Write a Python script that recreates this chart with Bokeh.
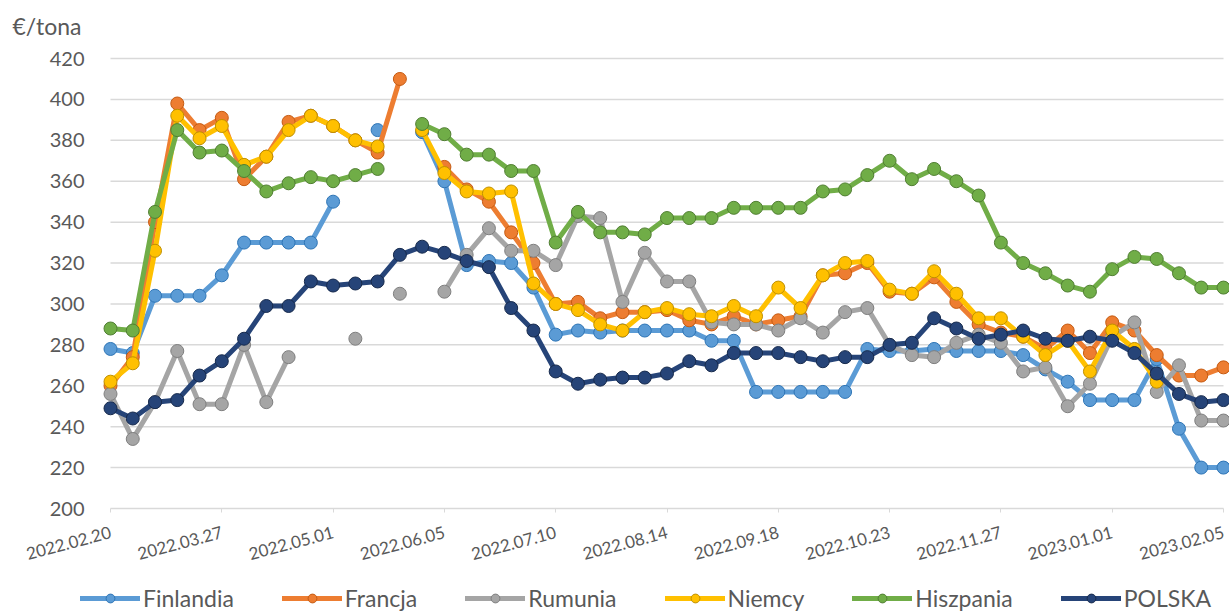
import math
from bokeh.plotting import figure
from bokeh.models import Legend, LegendItem, FixedTicker, Range1d, Label
from bokeh.embed import file_html
from bokeh.resources import INLINE

nan = float("nan")

tick_labels = ["2022.02.20", "2022.03.27", "2022.05.01", "2022.06.05", "2022.07.10",
               "2022.08.14", "2022.09.18", "2022.10.23", "2022.11.27", "2023.01.01", "2023.02.05"]
y_ticks = [200, 220, 240, 260, 280, 300, 320, 340, 360, 380, 400, 420]

finlandia = [278, 276, 304, 304, 304, 314, 330, 330, 330, 330, 350, nan, 385, nan, 384, 360, 319, 321, 320, 308,
             285, 287, 286, 287, 287, 287, 287, 282, 282, 257, 257, 257, 257, 257, 278, 277, 277, 278, 277, 277,
             277, 275, 268, 262, 253, 253, 253, 273, 239, 220, 220]
francja = [260, 274, 340, 398, 385, 391, 361, 372, 389, 392, 387, 380, 374, 410, nan, 367, 356, 350, 335, 320,
           300, 301, 293, 296, 296, 297, 292, 290, 294, 290, 292, 294, 314, 315, 320, 306, 305, 313, 301, 290,
           286, 284, 278, 287, 276, 291, 287, 275, 265, 265, 269]
rumunia = [256, 234, 252, 277, 251, 251, 280, 252, 274, nan, nan, 283, nan, 305, nan, 306, 324, 337, 326, 326,
           319, 343, 342, 301, 325, 311, 311, 291, 290, 290, 287, 293, 286, 296, 298, 280, 275, 274, 281, 285,
           281, 267, 269, 250, 261, 284, 291, 257, 270, 243, 243]
niemcy = [262, 271, 326, 392, 381, 387, 368, 372, 385, 392, 387, 380, 377, nan, 385, 364, 355, 354, 355, 310,
          300, 297, 290, 287, 296, 298, 295, 294, 299, 294, 308, 298, 314, 320, 321, 307, 305, 316, 305, 293,
          293, 284, 275, 282, 267, 287, 278, 262, nan, nan, nan]
hiszpania = [288, 287, 345, 385, 374, 375, 365, 355, 359, 362, 360, 363, 366, nan, 388, 383, 373, 373, 365, 365,
             330, 345, 335, 335, 334, 342, 342, 342, 347, 347, 347, 347, 355, 356, 363, 370, 361, 366, 360, 353,
             330, 320, 315, 309, 306, 317, 323, 322, 315, 308, 308]
polska = [249, 244, 252, 253, 265, 272, 283, 299, 299, 311, 309, 310, 311, 324, 328, 325, 321, 318, 298, 287,
          267, 261, 263, 264, 264, 266, 272, 270, 276, 276, 276, 274, 272, 274, 274, 280, 281, 293, 288, 283,
          285, 287, 283, 282, 284, 282, 276, 266, 256, 252, 253]

names = ["Finlandia", "Francja", "Rumunia", "Niemcy", "Hiszpania", "POLSKA"]
series = [finlandia, francja, rumunia, niemcy, hiszpania, polska]
colors = ["#5B9BD5", "#ED7D31", "#A5A5A5", "#FFC000", "#70AD47", "#264478"]
edges = ["#2E75B6", "#C55A11", "#7F7F7F", "#BF9000", "#507E32", "#172A4C"]

weeks = list(range(len(polska)))
FONT = "Lato"
TXT = "#595959"

# layout geometry (pixels): the plotting area occupies x 110..1223, y 58..508
W, H = 1229, 615
PL, PR, PT, PB = 110, 1223, 58, 508
first, last = weeks[0], weeks[-1]
ymin, ymax = y_ticks[0], y_ticks[-1]
ppx = (PR - PL) / (last - first)
ppy = (PB - PT) / (ymax - ymin)
x_range = Range1d(first - PL / ppx, last + (W - PR) / ppx)
y_range = Range1d(ymin - (H - PB) / ppy, ymax + PT / ppy)

p = figure(frame_width=W, frame_height=H, x_range=x_range, y_range=y_range,
           output_backend="svg", toolbar_location=None, min_border=0)
p.outline_line_color = None
p.background_fill_color = "white"
p.border_fill_color = "white"
p.xgrid.visible = False
p.ygrid.visible = False

# horizontal gridlines over the category span
p.segment(x0=[first] * (len(y_ticks) - 1), x1=[last] * (len(y_ticks) - 1),
          y0=y_ticks[1:], y1=y_ticks[1:], line_color="#D9D9D9", line_width=1.5, level="underlay")

p.yaxis.fixed_location = first
p.yaxis.bounds = (ymin, ymax)
p.yaxis.ticker = FixedTicker(ticks=y_ticks)
p.yaxis.axis_line_color = None
p.yaxis.major_tick_line_color = None
p.yaxis.minor_tick_line_color = None
p.yaxis.major_tick_in = 0
p.yaxis.major_tick_out = 0
p.yaxis.major_label_standoff = 26
p.yaxis.major_label_text_font = FONT
p.yaxis.major_label_text_font_size = "20px"
p.yaxis.major_label_text_color = TXT

p.xaxis.fixed_location = ymin
p.xaxis.bounds = (first, last)
p.xaxis.ticker = FixedTicker(ticks=[i * 5 for i in range(len(tick_labels))])
p.xaxis.major_label_overrides = {i * 5: t for i, t in enumerate(tick_labels)}
p.xaxis.axis_line_color = "#D9D9D9"
p.xaxis.axis_line_width = 1.5
p.xaxis.major_tick_line_color = "#D9D9D9"
p.xaxis.major_tick_in = 0
p.xaxis.major_tick_out = 4
p.xaxis.minor_tick_line_color = None
p.xaxis.major_label_orientation = 0.26
p.xaxis.major_label_standoff = 19
p.xaxis.major_label_text_font = FONT
p.xaxis.major_label_text_font_size = "17px"
p.xaxis.major_label_text_color = TXT

items = []
for name, vals, c, e in zip(names, series, colors, edges):
    ln = p.line(weeks, vals, line_color=c, line_width=5, line_join="round", line_cap="round")
    sc = p.scatter(weeks, vals, size=13, fill_color=c, line_color=e, line_width=1)
    items.append(LegendItem(label=name, renderers=[ln, sc]))

legend = Legend(items=items, orientation="horizontal", location=(80, 3),
                glyph_width=60, glyph_height=22, label_standoff=3, spacing=48,
                label_text_font=FONT, label_text_font_size="23px", label_text_color=TXT,
                border_line_color=None, background_fill_alpha=0, margin=0, padding=0)
p.add_layout(legend, "center")

p.add_layout(Label(x=12, y=H - 25, x_units="screen", y_units="screen", text="€/tona",
                   text_font=FONT, text_font_size="23px", text_color=TXT,
                   text_align="left", text_baseline="middle"))

open("out.html", "w").write(file_html(p, INLINE))
